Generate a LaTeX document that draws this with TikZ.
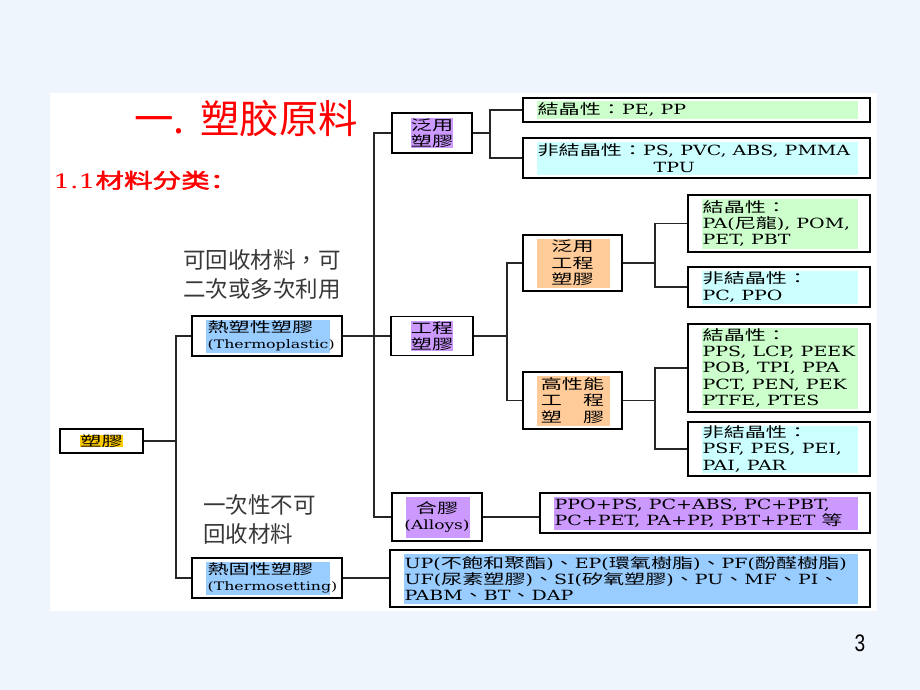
\documentclass[tikz,border=0pt]{standalone}
\usepackage{fontspec}
\setmainfont[FakeStretch=1.35]{DejaVu Serif}
\newfontfamily\zh[FakeStretch=1.5]{Noto Sans CJK TC}
\newfontfamily\plainzh{Noto Sans CJK TC}
\newfontfamily\titlezh{Noto Sans CJK SC}
\newfontfamily\boldzh[FakeStretch=1.4,FakeBold=2.5]{Noto Sans CJK SC}
\newfontfamily\numfont[FakeStretch=0.8]{Liberation Sans}
\newcommand\zt[1]{{\zh #1}}
\def\pxu{0.025cm}
\def\boxfont{\fontsize{10}{11.7}\selectfont}
\def\smallfont{\fontsize{8.3}{11.7}\selectfont}
\definecolor{slidebg}{RGB}{238,245,253}
\definecolor{okgreen}{RGB}{204,255,204}
\definecolor{okcyan}{RGB}{204,255,255}
\definecolor{okpurple}{RGB}{204,153,255}
\definecolor{okorange}{RGB}{255,204,153}
\definecolor{okblue}{RGB}{153,204,255}
\definecolor{okyellow}{RGB}{255,204,0}
\definecolor{titlered}{RGB}{255,0,0}
\tikzset{
	frame/.style={draw=black, fill=white, line width=0.9pt, inner sep=0pt,
		path picture={\fill[#1] ([xshift=14*\pxu,yshift=3.5*\pxu]path picture bounding box.south west) rectangle ([xshift=-12*\pxu,yshift=-3.5*\pxu]path picture bounding box.north east);}},
	frame/.default=white,
	txt/.style={font=\boxfont, align=left, inner sep=0pt, anchor=west},
	note/.style={font=\plainzh\fontsize{16}{20.6}\selectfont, text=black!78, align=left, inner sep=0pt, anchor=north west},
	link/.style={draw=black!85, line width=0.75pt},
}

\begin{document}
\begin{tikzpicture}[x=\pxu, y=-\pxu]
		%%%%% PAGE %%%%%
		\fill[slidebg] (0,0) rectangle (920,690);
		\useasboundingbox (0,0) rectangle (920,690);
		\fill[white] (50,93) rectangle (877,611);
		
		\node[anchor=base west, text=titlered, inner sep=0pt, font=\titlezh\fontsize{28}{28}\selectfont] (title) at (134,133) {一.\hspace{3pt} 塑胶原料};
		\node[anchor=base west, text=titlered, inner sep=0pt, font=\fontsize{14}{14}\selectfont] (subtitle) at (53,188) {1.1{\boldzh\fontsize{14.5}{14.5}\selectfont 材料分类：}};
		\node[font=\numfont\fontsize{17}{17}\selectfont] (pagenum) at (860,643) {3};
		
		\node[note] (recyclable) at (183,249) {可回收材料，可\\二次或多次利用};
		\node[note] (onetime) at (203,494) {一次性不可\\回收材料};
		
		%%%%% LEFT %%%%%
		\node[frame, minimum width=83*\pxu, minimum height=24*\pxu] (plastic) at (101.5,441) {};
		\node[txt, anchor=center, fill=okyellow, font=\boxfont\zh] (plastictxt) at (plastic) {塑膠};
		
		\node[frame=okblue, minimum width=150*\pxu, minimum height=40*\pxu] (thermoplastic) at (267,336) {};
		\node[txt] (thermoplastictxt) at ([xshift=16*\pxu]thermoplastic.west) {\zt{熱塑性塑膠}\\{\smallfont(Thermoplastic)}};
		\node[frame=okblue, minimum width=150*\pxu, minimum height=40*\pxu] (thermoset) at (267,578) {};
		\node[txt] (thermosettxt) at ([xshift=16*\pxu]thermoset.west) {\zt{熱固性塑膠}\\{\smallfont(Thermosetting)}};
		
		%%%%% MIDDLE %%%%%
		\node[frame, minimum width=80*\pxu, minimum height=40*\pxu] (commodity) at (432,133) {};
		\node[txt, anchor=center, align=center, fill=okpurple, font=\boxfont\zh] (commoditytxt) at (commodity) {泛用\\塑膠};
		\node[frame, minimum width=82*\pxu, minimum height=39*\pxu] (engineering) at (432,336) {};
		\node[txt, anchor=center, align=center, fill=okpurple, font=\boxfont\zh] (engineeringtxt) at (engineering) {工程\\塑膠};
		\node[frame=okpurple, minimum width=90*\pxu, minimum height=48*\pxu, align=center, font=\boxfont] (alloy) at (437,517) {\zt{合膠}\\{\fontsize{9}{11.7}\selectfont(Alloys)}};
		
		\node[frame=okorange, minimum width=99*\pxu, minimum height=56*\pxu, align=center, font=\boxfont\zh] (geneng) at (572.5,263) {泛用\\工程\\塑膠};
		\node[frame=okorange, minimum width=99*\pxu, minimum height=57*\pxu, align=center, font=\boxfont\zh] (higheng) at (572.5,400.5) {高性能\\工　程\\塑　膠};
		
		%%%%% RIGHT %%%%%
		\node[frame=okgreen, minimum width=347*\pxu, minimum height=24*\pxu] (commcryst) at (696.5,110) {};
		\node[txt] (commcrysttxt) at ([xshift=15*\pxu]commcryst.west) {\zt{結晶性：}PE, PP};
		\node[frame=okcyan, minimum width=347*\pxu, minimum height=40*\pxu] (commamor) at (696.5,158) {};
		\node[txt] (commamortxt) at ([xshift=15*\pxu]commamor.west) {\zt{非結晶性：}PS, PVC, ABS, PMMA\\\hspace*{2.9cm}TPU};
		
		\node[frame=okgreen, minimum width=182*\pxu, minimum height=57*\pxu] (gecryst) at (779,223.5) {};
		\node[txt] (gecrysttxt) at ([xshift=15*\pxu]gecryst.west) {\zt{結晶性：}\\PA(\zt{尼龍}), POM,\\PET, PBT};
		\node[frame=okcyan, minimum width=182*\pxu, minimum height=40*\pxu] (geamor) at (779,287) {};
		\node[txt] (geamortxt) at ([xshift=15*\pxu]geamor.west) {\zt{非結晶性：}\\PC, PPO};
		
		\node[frame=okgreen, minimum width=182*\pxu, minimum height=88*\pxu] (hpcryst) at (779,368) {};
		\node[txt] (hpcrysttxt) at ([xshift=15*\pxu]hpcryst.west) {\zt{結晶性：}\\PPS, LCP, PEEK\\POB, TPI, PPA\\PCT, PEN, PEK\\PTFE, PTES};
		\node[frame=okcyan, minimum width=182*\pxu, minimum height=54*\pxu] (hpamor) at (779,449) {};
		\node[txt] (hpamortxt) at ([xshift=15*\pxu]hpamor.west) {\zt{非結晶性：}\\PSF, PES, PEI,\\PAI, PAR};
		
		\node[frame=okpurple, minimum width=330*\pxu, minimum height=40*\pxu] (alloylist) at (705,513) {};
		\node[txt] (alloylisttxt) at ([xshift=15*\pxu]alloylist.west) {PPO+PS, PC+ABS, PC+PBT,\\PC+PET, PA+PP, PBT+PET \zt{等}};
		
		\node[frame=okblue, minimum width=480*\pxu, minimum height=57*\pxu] (setlist) at (630,578.5) {};
		\node[txt] (setlisttxt) at ([xshift=15*\pxu]setlist.west) {UP(\zt{不飽和聚酯})\zt{、}EP(\zt{環氧樹脂})\zt{、}PF(\zt{酚醛樹脂})\\UF(\zt{尿素塑膠})\zt{、}SI(\zt{矽氧塑膠})\zt{、}PU\zt{、}MF\zt{、}PI\zt{、}\\PABM\zt{、}BT\zt{、}DAP};
		
		%%%%% LINKS %%%%%
		\coordinate (j1) at (176,441);
		\coordinate (j2) at (374,336);
		\coordinate (j3) at (490,133);
		\coordinate (j4) at (507,336);
		\coordinate (j5) at (655,263);
		\coordinate (j6) at (655,400.5);
		
		\draw[link] (plastic.east) -- (j1);
		\draw[link] (thermoplastic.west) -| (j1);
		\draw[link] (thermoset.west) -| (j1);
		
		\draw[link] (thermoplastic.east) -- (thermoplastic.east -| engineering.west);
		\draw[link] (commodity.west) -| (j2);
		\draw[link] (alloy.west) -| (j2);
		\draw[link] (thermoset.east) -- (thermoset.east -| setlist.west);
		
		\draw[link] (commodity.east) -- (j3);
		\draw[link] (commcryst.west) -| (j3);
		\draw[link] (commamor.west) -| (j3);
		
		\draw[link] (engineering.east) -- (j4);
		\draw[link] (geneng.west) -| (j4);
		\draw[link] (higheng.west) -| (j4);
		
		\draw[link] (geneng.east) -- (j5);
		\draw[link] (gecryst.west) -| (j5);
		\draw[link] (geamor.west) -| (j5);
		
		\draw[link] (higheng.east) -- (j6);
		\draw[link] (hpcryst.west) -| (j6);
		\draw[link] (hpamor.west) -| (j6);
		
		\draw[link] (alloy.east) -- (alloy.east -| alloylist.west);
		
		%%%%% END %%%%%
\end{tikzpicture}
\end{document}
